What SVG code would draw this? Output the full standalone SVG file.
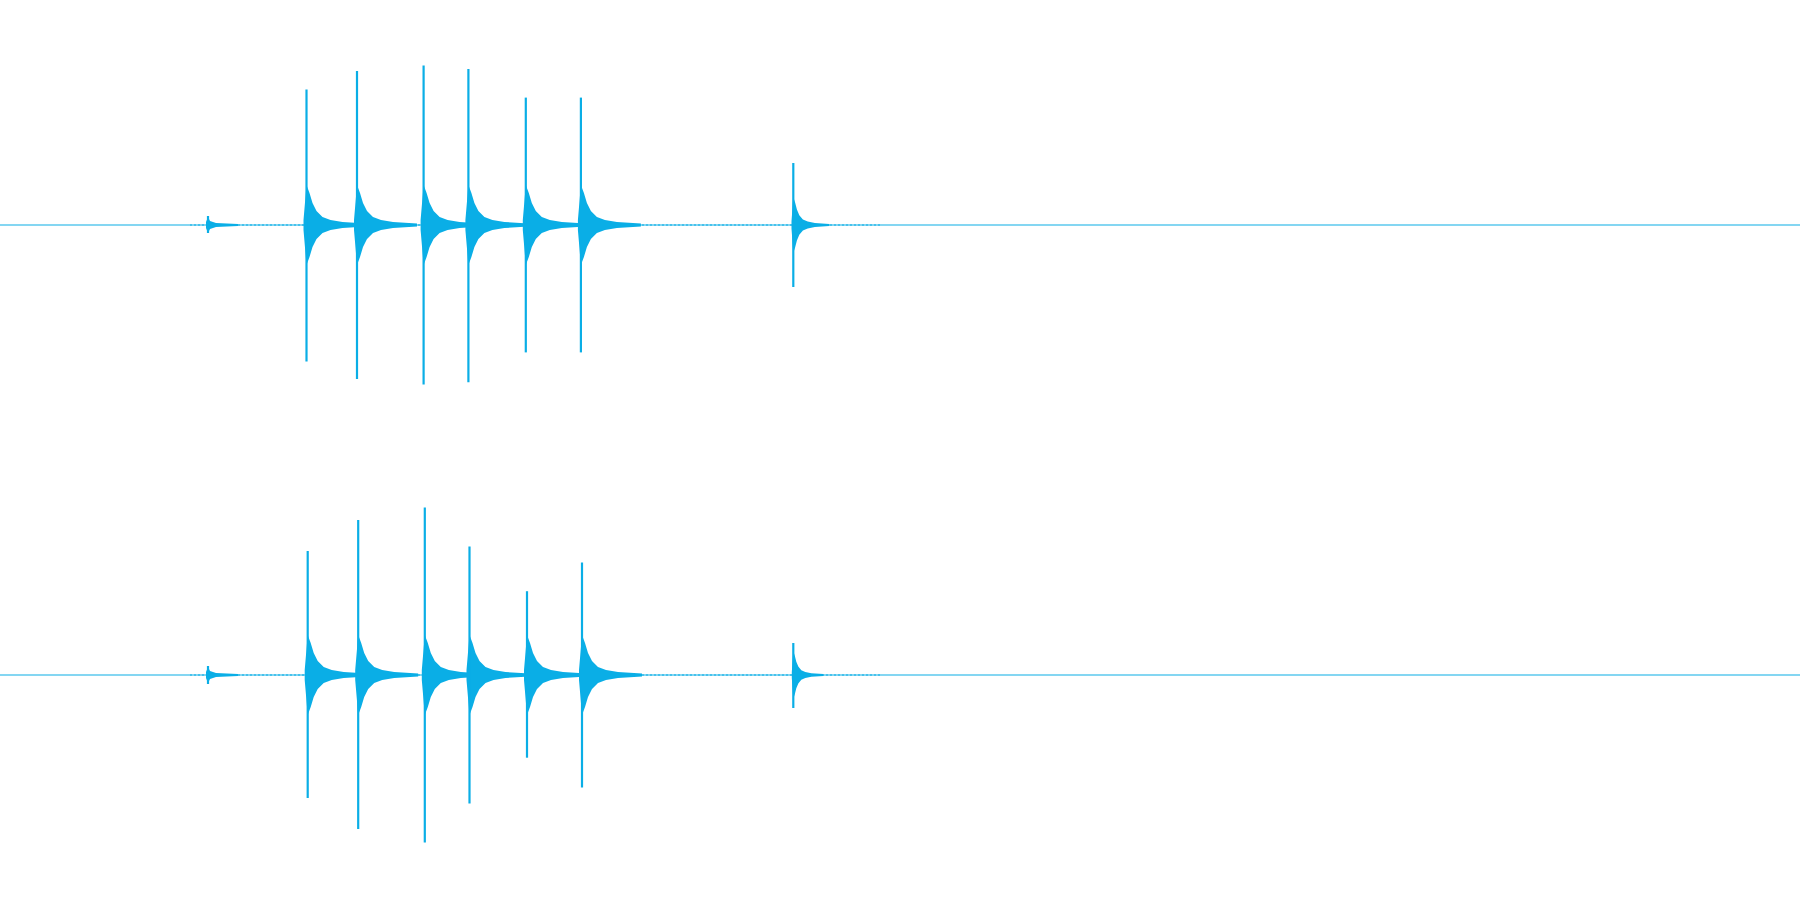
<svg xmlns="http://www.w3.org/2000/svg" xmlns:xlink="http://www.w3.org/1999/xlink" width="1800" height="900" viewBox="0 0 1800 900">
<style>.w{fill:#0aaee6;stroke:none}.c{stroke:#0aaee6;stroke-width:1.2}.p{stroke:#0aaee6;stroke-width:2.2}</style>
<defs>
<polygon id="d" class="w" points="-3,-5 0,-40 3,-32 6,-22 10,-14 16,-8 24,-5 36,-3 60,-1.5 60,1.5 36,3 24,5 16,8 10,14 6,22 3,32 0,40 -3,5"/>
<polygon id="s" class="w" points="-2,-3 0,-8 2,-4 8,-2 30,-1 30,1 8,2 2,4 0,8 -2,3"/>
</defs>
<rect width="1800" height="900" fill="#fff"/>
<g id="ch1">
<line class="c" x1="0" y1="225" x2="1800" y2="225"/>
<line class="c" x1="190" y1="225" x2="880" y2="225" stroke-dasharray="2 2" stroke-width="2"/>
<use href="#s" x="208" y="225"/><line class="p" x1="208" y1="216" x2="208" y2="233"/>
<g><use href="#d" x="306.5" y="225"/><line class="p" x1="306.5" y1="89.5" x2="306.5" y2="361.6"/></g>
<g><use href="#d" x="357" y="225"/><line class="p" x1="357" y1="71" x2="357" y2="379"/></g>
<g><use href="#d" x="423.6" y="225"/><line class="p" x1="423.6" y1="65.4" x2="423.6" y2="384.6"/></g>
<g><use href="#d" x="468.4" y="225"/><line class="p" x1="468.4" y1="68.9" x2="468.4" y2="382.3"/></g>
<g><use href="#d" x="525.8" y="225"/><line class="p" x1="525.8" y1="97.6" x2="525.8" y2="352.4"/></g>
<g><use href="#d" x="580.9" y="225"/><line class="p" x1="580.9" y1="97.6" x2="580.9" y2="352.4"/></g>
<g><use href="#d" x="793.3" y="225" transform="translate(793.3 225) scale(0.6 0.7) translate(-793.3 -225)"/><line class="p" x1="793.3" y1="163" x2="793.3" y2="287"/></g>
</g>
<g id="ch2">
<line class="c" x1="0" y1="675" x2="1800" y2="675"/>
<line class="c" x1="190" y1="675" x2="880" y2="675" stroke-dasharray="2 2" stroke-width="2"/>
<use href="#s" x="208" y="675"/><line class="p" x1="208" y1="666" x2="208" y2="684"/>
<g><use href="#d" x="307.7" y="675"/><line class="p" x1="307.7" y1="551" x2="307.7" y2="798"/></g>
<g><use href="#d" x="358.2" y="675"/><line class="p" x1="358.2" y1="520" x2="358.2" y2="829"/></g>
<g><use href="#d" x="424.8" y="675"/><line class="p" x1="424.8" y1="507.4" x2="424.8" y2="842.6"/></g>
<g><use href="#d" x="469.5" y="675"/><line class="p" x1="469.5" y1="546.5" x2="469.5" y2="803.6"/></g>
<g><use href="#d" x="527" y="675"/><line class="p" x1="527" y1="591.2" x2="527" y2="757.7"/></g>
<g><use href="#d" x="582" y="675"/><line class="p" x1="582" y1="562.5" x2="582" y2="787.5"/></g>
<g><use href="#d" x="793.3" y="675" transform="translate(793.3 675) scale(0.5 0.6) translate(-793.3 -675)"/><line class="p" x1="793.3" y1="643" x2="793.3" y2="708"/></g>
</g>
</svg>
